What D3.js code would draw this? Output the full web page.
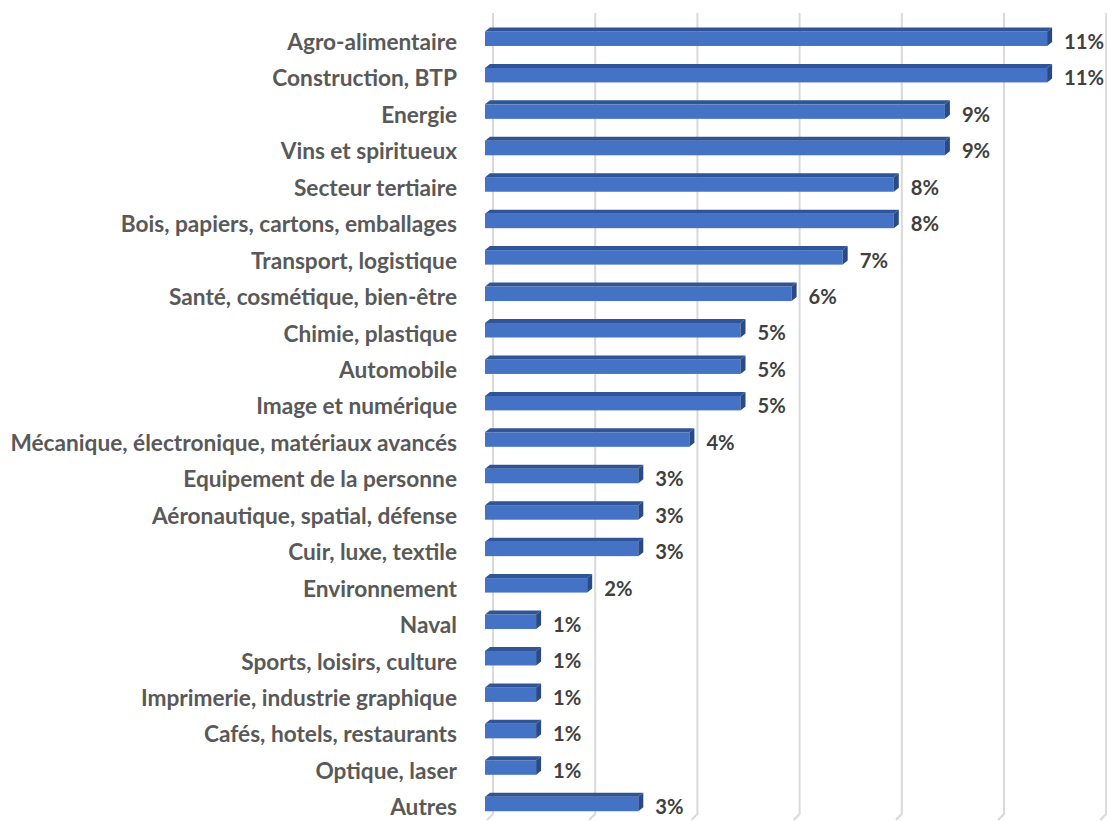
<!DOCTYPE html>
<html>
<head>
<meta charset="utf-8">
<script src="https://cdn.jsdelivr.net/npm/d3@7/dist/d3.min.js"></script>
<style>
  body { margin: 0; background: #fff; }
  svg { display: block; }
</style>
</head>
<body>
<div id="chart"></div>
<script>
// secteurs et parts (en %)
var categories = ['Agro-alimentaire', 'Construction, BTP', 'Energie', 'Vins et spiritueux',
  'Secteur tertiaire', 'Bois, papiers, cartons, emballages', 'Transport, logistique',
  'Santé, cosmétique, bien-être', 'Chimie, plastique', 'Automobile', 'Image et numérique',
  'Mécanique, électronique, matériaux avancés', 'Equipement de la personne',
  'Aéronautique, spatial, défense', 'Cuir, luxe, textile', 'Environnement', 'Naval',
  'Sports, loisirs, culture', 'Imprimerie, industrie graphique', 'Cafés, hotels, restaurants',
  'Optique, laser', 'Autres'];
var values = [11, 11, 9, 9, 8, 8, 7, 6, 5, 5, 5, 4, 3, 3, 3, 2, 1, 1, 1, 1, 1, 3];
var ticks = [0, 2, 4, 6, 8, 10, 12];

var width = 1107, height = 821;
var dx = 5, dy = 4;   // profondeur 3D des barres
var wallDx = 8;       // decalage du mur du fond

var svg = d3.select('#chart').append('svg')
  .attr('width', width).attr('height', height);

var x = d3.scaleLinear().domain([0, 12]).range([485, 485 + 12 * 51.1]);
var y = d3.scaleBand().domain(categories).range([20.5, 822.2]).padding(0);
var barH = 14.5;

// quadrillage (mur du fond)
svg.append('g').selectAll('path')
  .data(ticks)
  .enter()
  .append('path')
  .attr('d', function(d) {
    var gx = x(d) + wallDx;
    return 'M' + gx + ',13 L' + gx + ',814 L' + (gx - 6) + ',820';
  })
  .attr('fill', 'none')
  .attr('stroke', '#d9d9d9')
  .attr('stroke-width', 2);

var bars = svg.append('g').selectAll('g')
  .data(values)
  .enter()
  .append('g');

function yc(d, i) { return y(categories[i]) + y.bandwidth() / 2; }

// face avant
bars.append('rect')
  .attr('x', x(0))
  .attr('y', function(d, i) { return yc(d, i) - barH / 2; })
  .attr('width', function(d) { return x(d) - x(0); })
  .attr('height', barH)
  .attr('fill', '#4472c4');

// dessus
bars.append('path')
  .attr('d', function(d, i) {
    var t = yc(d, i) - barH / 2, x0 = x(0), x1 = x(d);
    return 'M' + x0 + ',' + t + ' L' + (x0 + dx) + ',' + (t - dy) +
      ' L' + (x1 + dx) + ',' + (t - dy) + ' L' + x1 + ',' + t + 'Z';
  })
  .attr('fill', '#2f5597');

// cote droit
bars.append('path')
  .attr('d', function(d, i) {
    var t = yc(d, i) - barH / 2, b = t + barH, x1 = x(d);
    return 'M' + x1 + ',' + t + ' L' + (x1 + dx) + ',' + (t - dy) +
      ' L' + (x1 + dx) + ',' + (b - dy) + ' L' + x1 + ',' + b + 'Z';
  })
  .attr('fill', '#2a4a85');

// libelles des categories
var catLabels = svg.append('g').selectAll('text')
  .data(categories)
  .enter()
  .append('text')
  .attr('x', 457)
  .attr('y', function(d, i) { return yc(null, i) + 5.5; })
  .attr('text-anchor', 'end')
  .attr('dominant-baseline', 'middle')
  .attr('font-family', 'Lato, "Open Sans", sans-serif')
  .attr('font-weight', 'bold')
  .attr('font-size', 18)
  .attr('fill', '#595959')
  .text(function(d) { return d; });

// ajuste la taille pour que le plus long libelle fasse ~448px
var longest = d3.max(catLabels.nodes(), function(n) { return n.getComputedTextLength(); });
catLabels.attr('font-size', 18 * 447 / longest);

// etiquettes de valeurs
var valLabels = svg.append('g').selectAll('text')
  .data(values)
  .enter()
  .append('text')
  .attr('x', function(d) { return x(d) + dx + 12; })
  .attr('y', function(d, i) { return yc(d, i) + 5; })
  .attr('dominant-baseline', 'middle')
  .attr('font-family', 'Lato, "Open Sans", sans-serif')
  .attr('font-weight', 'bold')
  .attr('font-size', 20)
  .attr('fill', '#404040')
  .text(function(d) { return d + '%'; });

var w11 = valLabels.nodes()[0].getComputedTextLength();
valLabels.attr('font-size', 20 * 40 / w11);
</script>
</body>
</html>
